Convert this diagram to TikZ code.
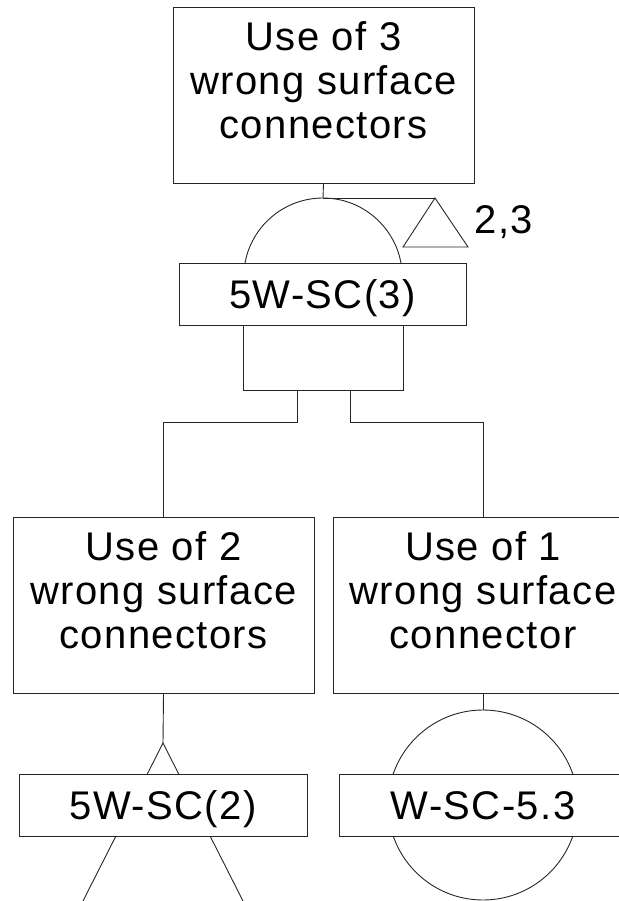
\documentclass[tikz,border=0pt]{standalone}
\usepackage{fontspec}
\newfontfamily\diafont[LetterSpace=3.5]{Liberation Sans}
\begin{document}
\begin{tikzpicture}[x=1pt,y=1pt,
  ln/.style={line width=0.9pt, draw=black!85},
  evbox/.style={ln, rectangle, minimum width=301pt, minimum height=176pt, inner sep=0pt},
  lblbox/.style={ln, rectangle, fill=white, minimum width=288pt, minimum height=62pt, inner sep=0pt},
  evtext/.style={align=center, inner sep=0pt, font=\diafont\fontsize{40}{44}\selectfont},
  lbltext/.style={inner sep=0pt, anchor=base, font=\diafont\fontsize{40}{44}\selectfont}
]
\useasboundingbox (0,0) rectangle (618,-901);

% top event
\node[evbox] (top) at (323.5,-95) {};
\node[evtext, anchor=north] (toptxt) at (323.5,-21.5) {Use of 3\\wrong surface\\connectors};

% AND gate
\coordinate (gtop) at (323,-198);
\draw[ln] (top.south) -- (gtop);
\draw[ln] (245,-263) arc[start angle=169.6, end angle=10.4, radius=79.3];
\node[ln, rectangle, minimum width=160pt, minimum height=65pt, inner sep=0pt] (gbody) at (323,-357.5) {};
\node[lblbox, minimum width=287pt] (g1) at (322.5,-294) {};
\node[lbltext] (g1t) at (322.5,-308) {5W-SC(3)};

% transfer triangle
\coordinate (tapex) at (435,-198);
\coordinate (tl) at (403,-247);
\coordinate (tr) at (468,-247);
\draw[ln] (gtop) -- (tapex);
\draw[ln] (tapex) -- (tl) -- (tr) -- cycle;
\node[inner sep=0pt, font=\diafont\fontsize{40}{44}\selectfont] (tlab) at (504,-222) {2,3};

% left child event
\node[evbox] (ev2) at (163.5,-605) {};
\node[evtext, anchor=north] (ev2t) at (163.5,-531.5) {Use of 2\\wrong surface\\connectors};

% right child event
\node[evbox, minimum width=300pt] (ev1) at (483,-605) {};
\node[evtext, anchor=north] (ev1t) at (483,-531.5) {Use of 1\\wrong surface\\connector};

% connectors from gate
\coordinate (ga) at (297,-390);
\coordinate (gb) at (350,-390);
\draw[ln] (ga) -- (297,-422) -| (ev2.north);
\draw[ln] (gb) -- (350,-422) -| (ev1.north);

% left: transfer-in triangle
\coordinate (lapex) at (163,-743);
\coordinate (lbl) at (83,-901);
\coordinate (lbr) at (243,-901);
\draw[ln] (ev2.south) -- (lapex);
\draw[ln] (lbl) -- (lapex) -- (lbr);
\node[lblbox] (g2) at (163,-805) {};
\node[lbltext] (g2t) at (163,-819) {5W-SC(2)};

% right: basic event circle
\node[ln, circle, minimum size=190pt, inner sep=0pt] (be) at (483,-805) {};
\draw[ln] (ev1.south) -- (be.north);
\node[lblbox] (g3) at (483,-805) {};
\node[lbltext] (g3t) at (483,-819) {W-SC-5.3};
\end{tikzpicture}
\end{document}
